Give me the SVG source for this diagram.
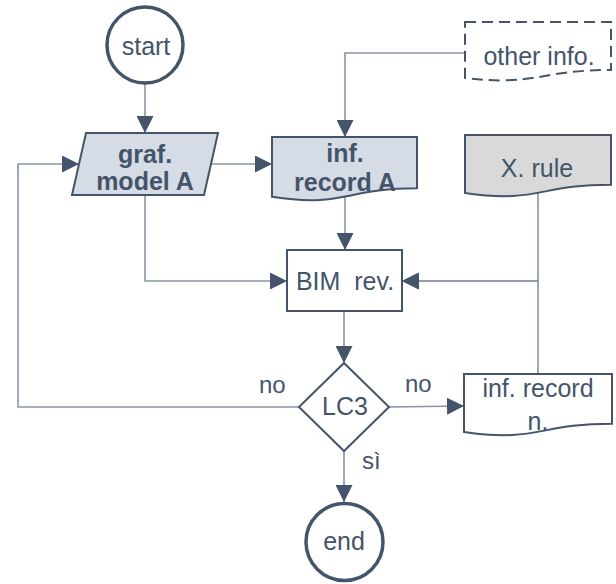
<svg xmlns="http://www.w3.org/2000/svg" width="616" height="584" viewBox="0 0 616 584">
<style>
text{font-family:"Liberation Sans",Arial,sans-serif;font-size:25px;fill:#44546a;text-anchor:middle}
.b{font-weight:bold}
.lbl{font-size:24px;text-anchor:start}
.term{fill:#fff;stroke:#44546a;stroke-width:3.5}
.shp{stroke:#44546a;stroke-width:2}
.blue{fill:#d6dce5}
.white{fill:#fff}
.gray{fill:#d9d9d9}
.dash{stroke-dasharray:11 6}
.con{fill:none;stroke:#8796ab;stroke-width:1.6}
</style>
<defs>
<marker id="ah" markerUnits="userSpaceOnUse" markerWidth="17" markerHeight="17" refX="17" refY="8.5" orient="auto">
<path d="M0,0 L17,8.5 L0,17 z" fill="#44546a"/>
</marker>
</defs>
<rect width="616" height="584" fill="#fff"/>
<g id="connectors">
<path class="con" d="M145,84 V133" marker-end="url(#ah)"/>
<path class="con" d="M211,164 H272" marker-end="url(#ah)"/>
<path class="con" d="M299,407 H18 V164 H79" marker-end="url(#ah)"/>
<path class="con" d="M145,195 V281 H287" marker-end="url(#ah)"/>
<path class="con" d="M465,53 H345 V137" marker-end="url(#ah)"/>
<path class="con" d="M345,193 V250" marker-end="url(#ah)"/>
<path class="con" d="M538,186 V281 H402" marker-end="url(#ah)"/>
<path class="con" d="M538,374 V281 H402" marker-end="url(#ah)"/>
<path class="con" d="M344,311 V363" marker-end="url(#ah)"/>
<path class="con" d="M389,407 L464,406" marker-end="url(#ah)"/>
<path class="con" d="M344,451 V502" marker-end="url(#ah)"/>
</g>
<g id="start">
<circle class="term" cx="145" cy="45" r="38"/>
<text x="146" y="55">start</text>
</g>
<g id="graf-model-A">
<polygon class="shp blue" points="86,133 218,133 204,195 72,195"/>
<text class="b" x="145" y="163">graf.</text>
<text class="b" x="145" y="190">model A</text>
</g>
<g id="inf-record-A">
<path class="shp blue" d="M272,137 H417 V188.3 C344.5,188.3 344.5,207.8 272,196.8 Z"/>
<text class="b" x="345" y="162">inf.</text>
<text class="b" x="345" y="191">record A</text>
</g>
<g id="other-info">
<path class="shp white dash" d="M465,22 H611 V70 C538,70 538,86.4 465,78 Z"/>
<text x="539" y="65">other info.</text>
</g>
<g id="x-rule">
<path class="shp gray" d="M465,135 H611 V184.7 C538,184.7 538,203.6 465,193 Z"/>
<text x="537" y="177">X. rule</text>
</g>
<g id="bim-rev">
<rect class="shp white" x="287" y="250" width="115" height="61"/>
<text x="345" y="290" word-spacing="7">BIM rev.</text>
</g>
<g id="lc3">
<polygon class="shp white" points="344,363 389,407 344,451 299,407"/>
<text x="345" y="415">LC3</text>
</g>
<g id="inf-record-n">
<path class="shp white" d="M464,374 H612 V423.7 C538,423.7 538,442.6 464,432 Z"/>
<text x="538" y="397">inf. record</text>
<text x="538" y="430">n.</text>
</g>
<g id="end">
<circle class="term" cx="344.5" cy="542" r="38.5"/>
<text x="344" y="550">end</text>
</g>
<g id="labels">
<text class="lbl" x="259" y="393">no</text>
<text class="lbl" x="405" y="392">no</text>
<text class="lbl" x="362" y="469">sì</text>
</g>
</svg>
